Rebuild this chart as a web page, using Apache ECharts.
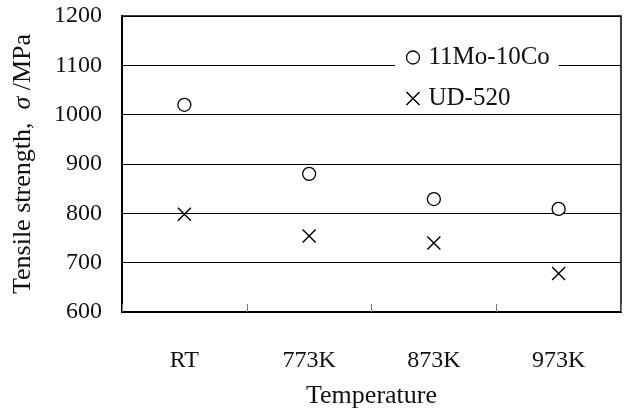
<!DOCTYPE html>
<html><head><meta charset="utf-8">
<script src="https://cdn.jsdelivr.net/npm/echarts@6/dist/echarts.min.js"></script>
<style>html,body{margin:0;padding:0;background:#fff}#c{width:624px;height:414px}</style>
</head><body><div id="c"></div>
<script>
const categories = ['RT', '773K', '873K', '973K'];
const seriesNames = ['11Mo-10Co', 'UD-520'];
const moCo = [1020, 880, 829, 809];
const ud520 = [798, 754, 740, 678];
const yTicks = [600, 700, 800, 900, 1000, 1100, 1200];

const F = 'Liberation Serif, Times New Roman, serif';
const crossPath = 'path://M0,0L10,10M10,0L0,10';
const chart = echarts.init(document.getElementById('c'));
chart.setOption({
  animation: false,
  backgroundColor: '#fff',
  grid: { left: 122, right: 3, top: 16, bottom: 87, show: true, borderColor: '#000', borderWidth: 1.5, backgroundColor: 'transparent' },
  xAxis: {
    type: 'category', data: categories,
    name: 'Temperature', nameLocation: 'middle', nameGap: 71,
    nameTextStyle: { fontFamily: F, fontSize: 26, color: '#111' },
    axisLine: { lineStyle: { color: '#000', width: 2 } },
    axisTick: { show: true, inside: true, length: 8, lineStyle: { color: '#777', width: 1 } },
    axisLabel: { fontFamily: F, fontSize: 24, color: '#111', margin: 37 }
  },
  yAxis: {
    type: 'value', min: yTicks[0], max: yTicks[yTicks.length - 1], interval: 100,
    name: '{n|Tensile strength,  }{i|σ}{n| /MPa}', nameLocation: 'middle', nameGap: 86,
    nameTextStyle: { rich: { n: { fontFamily: F, fontSize: 26, color: '#111' }, i: { fontFamily: F, fontSize: 26, fontStyle: 'italic', color: '#111' } } },
    axisLine: { show: true, lineStyle: { color: '#000', width: 2 } },
    axisTick: { show: false },
    splitLine: { lineStyle: { color: '#000', width: 1 } },
    axisLabel: { fontFamily: F, fontSize: 24, color: '#111', margin: 20, formatter: v => String(v) }
  },
  legend: {
    orient: 'vertical', left: 395, top: 40, itemGap: 16,
    backgroundColor: '#fff', padding: [5, 9, 2, 9],
    itemWidth: 13, itemHeight: 13,
    textStyle: { fontFamily: F, fontSize: 25, lineHeight: 25, color: '#111', padding: [0, 0, 0, 4] },
    data: [
      { name: seriesNames[0], icon: 'circle', itemStyle: { color: '#fff', borderColor: '#000', borderWidth: 1.3 } },
      { name: seriesNames[1], icon: crossPath, itemStyle: { color: 'none', borderColor: '#000', borderWidth: 1.5 } }
    ]
  },
  series: [
    { name: seriesNames[0], type: 'scatter', data: moCo, symbol: 'circle', symbolSize: 13,
      itemStyle: { color: '#fff', borderColor: '#000', borderWidth: 1.3, opacity: 1 } },
    { name: seriesNames[1], type: 'scatter', data: ud520, symbol: crossPath, symbolSize: 13,
      itemStyle: { color: 'none', borderColor: '#000', borderWidth: 1.5, opacity: 1 } }
  ]
});
</script></body></html>
